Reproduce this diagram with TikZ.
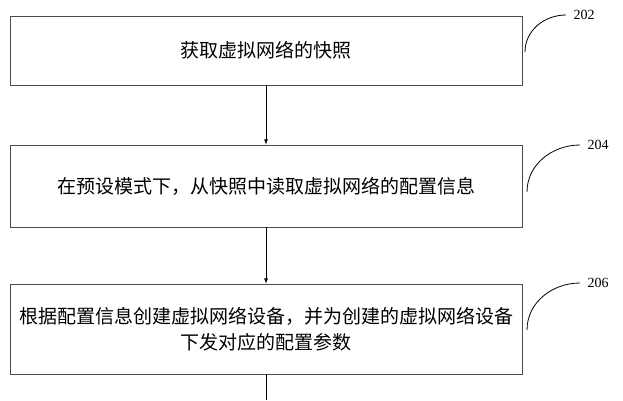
\documentclass[tikz,border=0pt]{standalone}
\usepackage{fontspec}
\setmainfont{Liberation Serif}
\newfontfamily\cjk{Noto Sans CJK SC}
\usepackage{tikz}

\begin{document}
\begin{tikzpicture}[x=1pt,y=-1pt,
    stepbox/.style={draw=black!70,line width=0.8pt,minimum width=512pt,inner sep=0pt,font=\cjk\fontsize{19}{26}\selectfont,align=center},
    tag/.style={font=\fontsize{14}{14}\selectfont}]
    \useasboundingbox (0,0) rectangle (623,400);
    \node[stepbox,minimum height=69pt] (s1) at (266,50.5) {获取虚拟网络的快照};
    \node[stepbox,minimum height=82pt] (s2) at (266,186) {在预设模式下，从快照中读取虚拟网络的配置信息};
    \node[stepbox,minimum height=90pt] (s3) at (266,329) {根据配置信息创建虚拟网络设备，并为创建的虚拟网络设备\\下发对应的配置参数};
    \coordinate (end) at (266,400);

    \node[tag] (t1) at (584,15) {202};
    \node[tag] (t2) at (598,145) {204};
    \node[tag] (t3) at (598,283) {206};

    \draw[->,>=latex,line width=0.8pt] (s1) -- (s2);
    \draw[->,>=latex,line width=0.8pt] (s2) -- (s3);
    \draw[line width=0.8pt] (s3) -- (end);

    \draw[line width=0.8pt] (525,52) to[out=90,in=180] ([xshift=-4pt]t1.west);
    \draw[line width=0.8pt] (527,192) to[out=90,in=180] ([xshift=-4pt]t2.west);
    \draw[line width=0.8pt] (527,330) to[out=90,in=180] ([xshift=-4pt]t3.west);
\end{tikzpicture}
\end{document}
